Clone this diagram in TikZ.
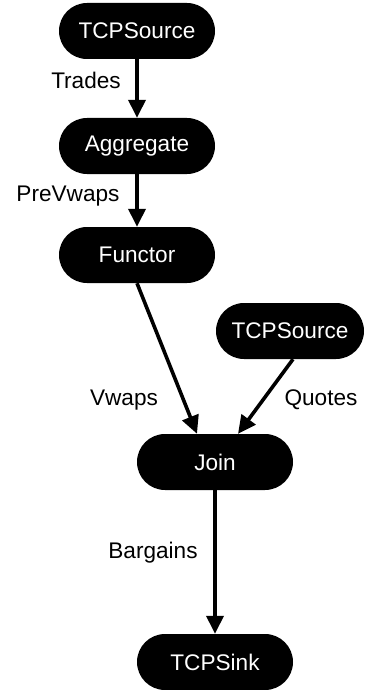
\documentclass[tikz,border=0pt]{standalone}
\usepackage{fontspec}
\setmainfont{Liberation Sans}
\usetikzlibrary{arrows.meta,calc}
\begin{document}
\begin{tikzpicture}[x=1pt,y=-1pt,
  opbox/.style={fill=black,text=white,rounded corners=28pt,minimum width=156pt,minimum height=56pt,inner sep=0pt,font=\fontsize{22.6pt}{26pt}\selectfont},
  lbl/.style={font=\fontsize{22.6pt}{26pt}\selectfont,inner sep=0pt},
  flow/.style={line width=3.6pt,-{Triangle[length=18pt,width=17pt]}}]
\useasboundingbox (0,0) rectangle (364,690);
\node[opbox] (src1) at (137,31) {TCPSource};
\node[opbox] (agg) at (137,146) {Aggregate};
\node[opbox] (fun) at (137,255) {Functor};
\node[opbox,minimum width=148pt] (src2) at (290,331) {TCPSource};
\node[opbox] (join) at (215,462) {Join};
\node[opbox] (sink) at (215,662) {TCPSink};
\node[lbl] (l1) at (86,80) {Trades};
\node[lbl] (l2) at (68,196) {PreVwaps};
\node[lbl] (l3) at (124,400) {Vwaps};
\node[lbl] (l4) at (321,400) {Quotes};
\node[lbl] (l5) at (153,553) {Bargains};
\draw[flow] (src1.south) -- (agg.north);
\draw[flow] (agg.south) -- (fun.north);
\draw[flow] (fun.south) -- ($(join.north)+(-18,0)$);
\draw[flow] ($(src2.south)+(3,0)$) -- ($(join.north)+(23,0)$);
\draw[flow] (join.south) -- (sink.north);
\end{tikzpicture}
\end{document}
